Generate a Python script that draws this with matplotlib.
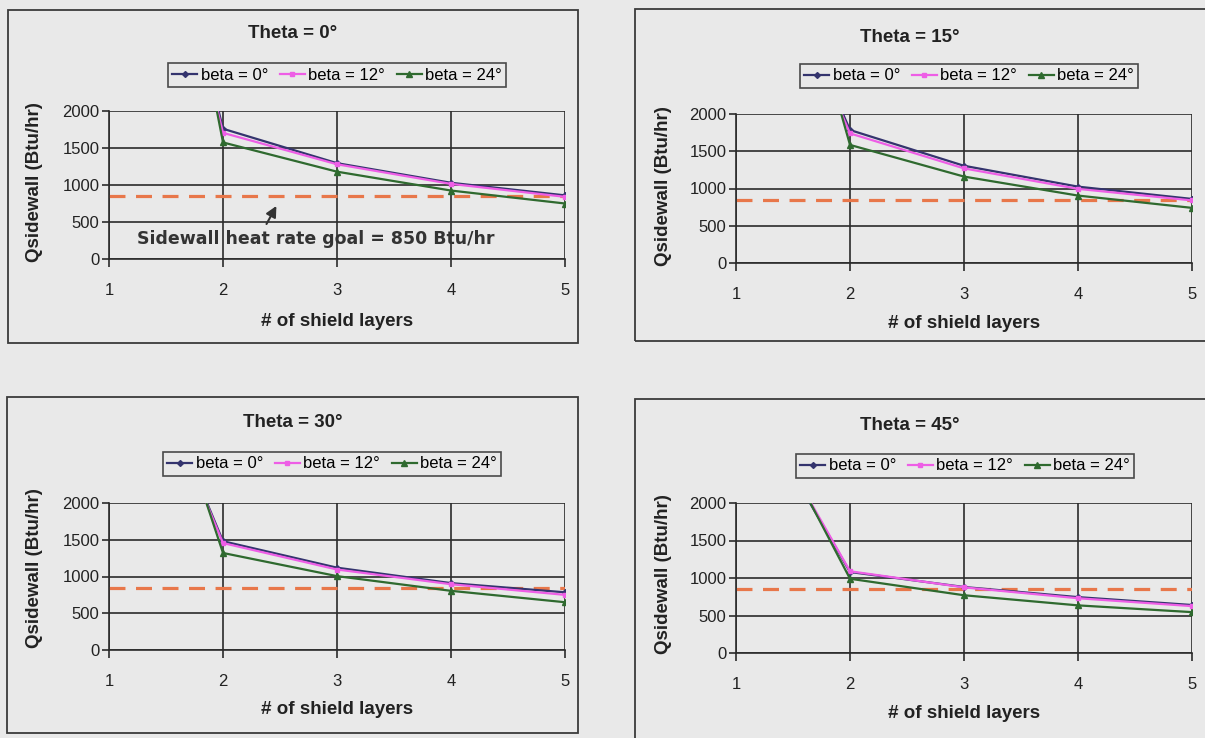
import matplotlib
matplotlib.use("Agg")
import matplotlib.pyplot as plt
from matplotlib.patches import Rectangle
from matplotlib.lines import Line2D

W, H = 1205, 738

# shield layers (x) and Qsidewall values (Btu/hr)
# (values at 1 layer run off the top of the charts, so they are rough)
layers = [1, 2, 3, 4, 5]

th0_b0 = [8000, 1760, 1295, 1030, 860]
th0_b12 = [8000, 1705, 1280, 1015, 840]
th0_b24 = [9500, 1575, 1180, 925, 750]

th15_b0 = [5300, 1785, 1305, 1025, 860]
th15_b12 = [5300, 1740, 1270, 995, 840]
th15_b24 = [7000, 1585, 1160, 905, 740]

th30_b0 = [5200, 1480, 1120, 910, 785]
th30_b12 = [5200, 1455, 1095, 895, 750]
th30_b24 = [6000, 1320, 1005, 805, 650]

th45_b0 = [3700, 1080, 880, 745, 640]
th45_b12 = [3750, 1090, 875, 730, 625]
th45_b24 = [3900, 990, 770, 635, 545]

goal = 850
beta_labels = ["beta = 0°", "beta = 12°", "beta = 24°"]
titles = ["Theta = 0°", "Theta = 15°", "Theta = 30°", "Theta = 45°"]

BG = "#e9e9e9"
GRID = "#2b2b2b"
TXT = "#222222"
COLORS = ["#34346e", "#ee5ee6", "#2f6a2f"]
MARKERS = ["D", "s", "^"]
MSIZE = [3, 3.5, 4]
GOAL_COLOR = "#e8774a"


def fbox(l, t, r, b):
    """pixel box (top-left origin) -> figure fraction rect"""
    return [l / W, 1 - b / H, (r - l) / W, (b - t) / H]


def fx(x):
    return x / W


def fy(y):
    return 1 - y / H


plt.rcParams["font.family"] = ["Liberation Sans", "DejaVu Sans"]

fig = plt.figure(figsize=(W / 100, H / 100), dpi=100, facecolor=BG)

# panel layout in pixels: frame, axes, title, legend, xlabel, ylabel
panels = [
    dict(frame=(8, 10, 578, 343), ax=(109, 111, 565, 259), title=(293, 33),
         leg=(337, 75), xl=(337, 321), yl=(35, 182),
         data=(th0_b0, th0_b12, th0_b24)),
    dict(frame=(635, 9, 1215, 341), ax=(736, 114, 1192, 263), title=(910, 37),
         leg=(969, 76), xl=(964, 323), yl=(663, 186),
         data=(th15_b0, th15_b12, th15_b24)),
    dict(frame=(7, 397, 578, 733), ax=(109, 503, 565, 650), title=(293, 423),
         leg=(332, 464), xl=(337, 710), yl=(35, 568),
         data=(th30_b0, th30_b12, th30_b24)),
    dict(frame=(635, 399, 1215, 745), ax=(736, 503, 1192, 653), title=(910, 425),
         leg=(965, 466), xl=(964, 714), yl=(663, 574),
         data=(th45_b0, th45_b12, th45_b24)),
]

for i, p in enumerate(panels):
    l, t, r, b = p["frame"]
    fig.add_artist(Rectangle((fx(l), fy(b)), (r - l) / W, (b - t) / H,
                             transform=fig.transFigure, fill=False,
                             edgecolor="#3a3a3a", lw=1.3))

    ax = fig.add_axes(fbox(*p["ax"]))
    ax.set_facecolor("none")

    ax.axhline(goal, color=GOAL_COLOR, lw=2.3, dashes=(5, 3.3), zorder=2)
    for vals, c, m, ms in zip(p["data"], COLORS, MARKERS, MSIZE):
        ax.plot(layers, vals, color=c, lw=1.6, marker=m, markersize=ms,
                zorder=3)

    ax.set_xlim(1, 5)
    ax.set_ylim(0, 2000)
    ax.set_xticks(layers)
    ax.set_yticks([0, 500, 1000, 1500, 2000])
    ax.grid(True, color=GRID, lw=1.2)
    ax.set_axisbelow(True)
    for s in ["top", "right"]:
        ax.spines[s].set_visible(False)
    for s in ["left", "bottom"]:
        ax.spines[s].set_color(GRID)
        ax.spines[s].set_linewidth(1.2)
    ax.tick_params(axis="y", length=5, width=1.2, color=GRID, labelsize=12,
                   labelcolor=TXT, pad=2)
    ax.tick_params(axis="x", length=6, width=1.2, color=GRID, labelsize=12,
                   labelcolor=TXT, pad=11)

    fig.text(fx(p["title"][0]), fy(p["title"][1]), titles[i], ha="center",
             va="center", fontsize=13.5, fontweight="bold", color=TXT)
    fig.text(fx(p["xl"][0]), fy(p["xl"][1]), "# of shield layers", ha="center",
             va="center", fontsize=13.5, fontweight="bold", color=TXT)
    fig.text(fx(p["yl"][0]), fy(p["yl"][1]), "Qsidewall (Btu/hr)", ha="center",
             va="center", rotation=90, fontsize=13.5, fontweight="bold",
             color=TXT)

    handles = [Line2D([], [], color=c, lw=1.6, marker=m, markersize=ms)
               for c, m, ms in zip(COLORS, MARKERS, MSIZE)]
    leg = fig.legend(handles, beta_labels, loc="center",
                     bbox_to_anchor=(fx(p["leg"][0]), fy(p["leg"][1])),
                     ncol=3, fontsize=12, frameon=True, fancybox=False,
                     handlelength=1.5, handletextpad=0.2, columnspacing=0.7,
                     borderpad=0.25, borderaxespad=0)
    leg.get_frame().set_edgecolor("#222222")
    leg.get_frame().set_linewidth(1.2)
    leg.get_frame().set_facecolor("none")

    if i == 0:
        ax.annotate("", xy=(2.48, 750), xytext=(2.37, 440),
                    arrowprops=dict(arrowstyle="-|>", color="#333333", lw=1.5,
                                    mutation_scale=16))
        ax.text(2.81, 270, "Sidewall heat rate goal = 850 Btu/hr",
                ha="center", va="center", fontsize=12.5, fontweight="bold",
                family="DejaVu Sans", color="#333333")

fig.savefig("out.png", dpi=100, facecolor=BG)
